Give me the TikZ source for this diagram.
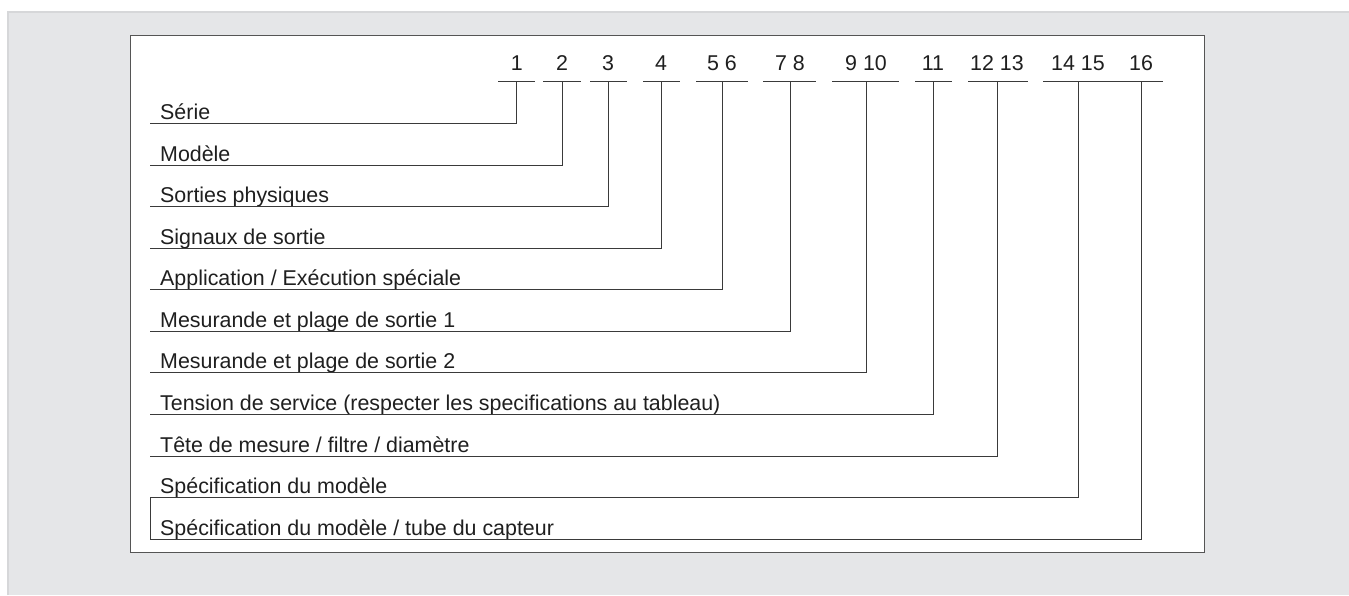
\documentclass[tikz,border=0pt]{standalone}
\usepackage{fontspec}
\setmainfont{Liberation Sans}
\definecolor{bggray}{HTML}{E5E6E8}
\definecolor{bgedge}{HTML}{D6D7D9}
\definecolor{linegray}{HTML}{3A3A3A}
\definecolor{boxgray}{HTML}{555555}
\tikzset{
  lbl/.style={anchor=base west, inner sep=0pt, font=\fontsize{21.4}{25}\selectfont, text=black!88},
  num/.style={anchor=base, inner sep=0pt, font=\fontsize{21.4}{25}\selectfont, text=black!88},
  lead/.style={draw=linegray, line width=1pt},
}
\begin{document}
\begin{tikzpicture}[x=1pt,y=-1pt]
\useasboundingbox (0,0) rectangle (1349,595);
\fill[white] (0,0) rectangle (1349,595);
\fill[bggray] (8,12) rectangle (1349,595);
\draw[bgedge, line width=1.5pt] (8,595) -- (8,12) -- (1349,12);
\draw[boxgray, fill=white, line width=1pt] (130,35) rectangle (1204,552.5);
% top number underlines
\foreach \a/\b in {498/535,543/581,590/627,643/680,696/748,763/816,832/899,915/952,968/1028,1043/1163}
  \draw[lead] (\a,81.7) -- (\b,81.7);
% numbers
\node[num] (n1) at (516.7,70.7) {1};
\node[num] (n2) at (562,70.7) {2};
\node[num] (n3) at (608,70.7) {3};
\node[num] (n4) at (661,70.7) {4};
\node[num] (n56) at (722,70.7) {5 6};
\node[num] (n78) at (790,70.7) {7 8};
\node[num] (n910) at (866,70.7) {9 10};
\node[num] (n11) at (933,70.7) {11};
\node[num] (n1213) at (997,70.7) {12 13};
\node[num] (n1415) at (1078,70.7) {14 15};
\node[num] (n16) at (1141,70.7) {16};
% labels and leaders
\foreach \i/\x/\t in {
  1/516.7/{Série},
  2/562/{Modèle},
  3/608/{Sorties physiques},
  4/661/{Signaux de sortie},
  5/722/{Application / Exécution spéciale},
  6/790/{Mesurande et plage de sortie 1},
  7/866/{Mesurande et plage de sortie 2},
  8/933/{Tension de service (respecter les specifications au tableau)},
  9/997/{Tête de mesure / filtre / diamètre},
  10/1078/{Spécification du modèle}}{
  \pgfmathsetmacro{\yy}{123.5+41.58*(\i-1)}
  \node[lbl] (l\i) at (160,\yy-4) {\t};
  \coordinate (s\i) at (150,\yy);
  \coordinate (c\i) at (\x,\yy);
  \coordinate (t\i) at (\x,81.7);
  \draw[lead] (s\i) -- (c\i) -- (t\i);
}
\pgfmathsetmacro{\yy}{123.5+41.58*10}
\node[lbl] (l11) at (160,\yy-4) {Spécification du modèle / tube du capteur};
\coordinate (s11) at (150,\yy);
\coordinate (c11) at (1141,\yy);
\coordinate (t11) at (1141,81.7);
\draw[lead] (s10) -- (s11) -- (c11) -- (t11);
\end{tikzpicture}
\end{document}
